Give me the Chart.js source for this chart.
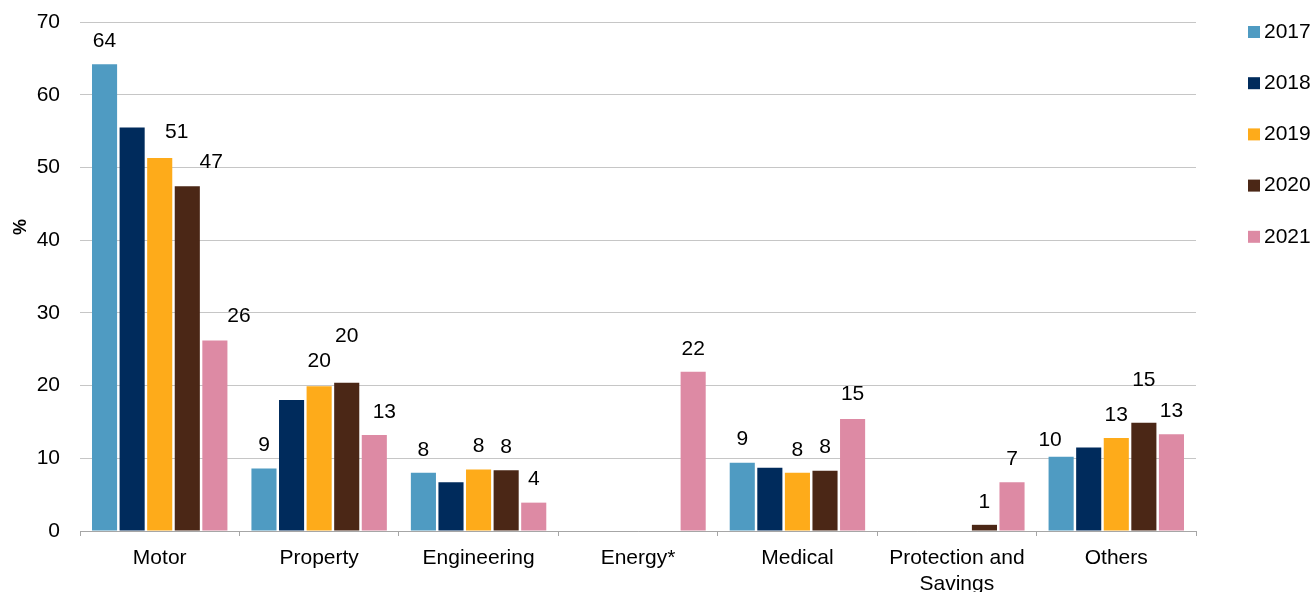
<!DOCTYPE html>
<html>
<head>
<meta charset="utf-8">
<script src="https://cdn.jsdelivr.net/npm/chart.js@4.4.1/dist/chart.umd.min.js"></script>
<style>
  html, body { margin: 0; padding: 0; background: #ffffff; }
  #wrap { width: 1315px; height: 592px; position: relative; }
</style>
</head>
<body>
<div id="wrap"><canvas id="chart" width="1315" height="592"></canvas></div>
<script>
// Share of gross written premium by line of business, %
const categories = ['Motor', 'Property', 'Engineering', 'Energy*', 'Medical', ['Protection and', 'Savings'], 'Others'];
const years = ['2017', '2018', '2019', '2020', '2021'];

const v2017 = [64.2, 8.6, 8.0, null, 9.4, null, 10.2];
const v2018 = [55.5, 18.0, 6.7, null, 8.7, null, 11.5];
const v2019 = [51.3, 19.9, 8.45, null, 8.0, null, 12.8];
const v2020 = [47.4, 20.4, 8.35, null, 8.3, 0.85, 14.9];
const v2021 = [26.2, 13.2, 3.9, 21.9, 15.4, 6.7, 13.3];

const yMin = 0;
const yMax = 70;
const yStep = 10;

// Years whose bars carry a value label
const labelledYears = ['2017', '2019', '2020', '2021'];

const FONT = "'Liberation Sans', Arial, sans-serif";
const colors = ['#4f9bc2', '#002b5c', '#feab1a', '#4b2716', '#dd8aa4'];
const seriesValues = [v2017, v2018, v2019, v2020, v2021];

const datasets = years.map((y, i) => ({
  label: y,
  data: seriesValues[i],
  backgroundColor: colors[i],
  borderWidth: 0,
  barPercentage: 0.91,
  categoryPercentage: 0.865
}));

// Value labels above bars, with a few hand-placed nudges
const valueLabels = {
  id: 'valueLabels',
  afterDatasetsDraw(chart, args, opts) {
    const ctx = chart.ctx;
    ctx.save();
    ctx.font = opts.font;
    ctx.fillStyle = opts.color;
    ctx.textAlign = 'center';
    ctx.textBaseline = 'middle';
    chart.data.datasets.forEach((ds, di) => {
      if (!opts.series.includes(ds.label)) return;
      const meta = chart.getDatasetMeta(di);
      meta.data.forEach((bar, i) => {
        const v = ds.data[i];
        if (v === null || v === undefined) return;
        const n = opts.nudges.find(o => o.series === ds.label && o.index === i) || { dx: 0, dy: 0 };
        ctx.fillText(String(Math.round(v)), bar.x + n.dx, bar.y - opts.gap + n.dy);
      });
    });
    ctx.restore();
  }
};

// Vertical legend on the right and the rotated unit label
const sideDecor = {
  id: 'sideDecor',
  afterDraw(chart, args, opts) {
    const ctx = chart.ctx;
    ctx.save();
    ctx.font = opts.legendFont;
    ctx.textAlign = 'left';
    ctx.textBaseline = 'middle';
    chart.data.datasets.forEach((ds, i) => {
      const cy = opts.legendTop + i * opts.legendStep;
      ctx.fillStyle = ds.backgroundColor;
      ctx.fillRect(opts.legendX, cy - opts.box / 2, opts.box, opts.box);
      ctx.fillStyle = '#000000';
      ctx.fillText(ds.label, opts.legendX + opts.box + 4, cy);
    });
    ctx.translate(opts.unitX, opts.unitY);
    ctx.rotate(-Math.PI / 2);
    ctx.font = opts.unitFont;
    ctx.textAlign = 'center';
    ctx.fillText('%', 0, 0);
    ctx.restore();
  }
};

new Chart(document.getElementById('chart'), {
  type: 'bar',
  data: { labels: categories, datasets },
  plugins: [valueLabels, sideDecor],
  options: {
    responsive: false,
    animation: false,
    devicePixelRatio: 1,
    layout: { padding: { top: 22, right: 119, left: 0, bottom: 0 } },
    plugins: {
      legend: { display: false },
      tooltip: { enabled: false },
      valueLabels: {
        series: labelledYears,
        font: '21px ' + FONT,
        color: '#000000',
        gap: 23,
        nudges: [
          { series: '2019', index: 0, dx: 17, dy: -3 },
          { series: '2020', index: 0, dx: 24, dy: -1.5 },
          { series: '2021', index: 0, dx: 24, dy: -1 },
          { series: '2019', index: 1, dx: 0, dy: -2 },
          { series: '2020', index: 1, dx: 0, dy: -23.5 },
          { series: '2021', index: 1, dx: 10, dy: 0 },
          { series: '2021', index: 4, dx: 0, dy: -2 },
          { series: '2017', index: 6, dx: -11, dy: 6 },
          { series: '2020', index: 6, dx: 0, dy: -19 }
        ]
      },
      sideDecor: {
        legendFont: '21px ' + FONT,
        legendX: 1248,
        legendTop: 32,
        legendStep: 51.2,
        box: 12,
        unitFont: 'bold 18px ' + FONT,
        unitX: 21,
        unitY: 227
      }
    },
    scales: {
      x: {
        afterFit(scale) { scale.height = 61; },
        grid: {
          display: true,
          drawOnChartArea: false,
          offset: true,
          tickLength: 5,
          color: '#a6a6a6',
          lineWidth: 1
        },
        border: { display: true, color: '#a6a6a6', width: 1 },
        ticks: {
          font: { family: FONT, size: 21, lineHeight: 1.2 },
          color: '#000000',
          padding: 10,
          maxRotation: 0,
          autoSkip: false
        }
      },
      y: {
        min: yMin,
        max: yMax,
        afterFit(scale) {
          scale.width = 80;
          scale.paddingTop = 0;
          scale.paddingBottom = 0;
        },
        grid: { color: '#c6c6c6', lineWidth: 1, drawTicks: false },
        border: { display: false },
        ticks: {
          stepSize: yStep,
          font: { family: FONT, size: 21 },
          color: '#000000',
          padding: 20
        }
      }
    }
  }
});
</script>
</body>
</html>
